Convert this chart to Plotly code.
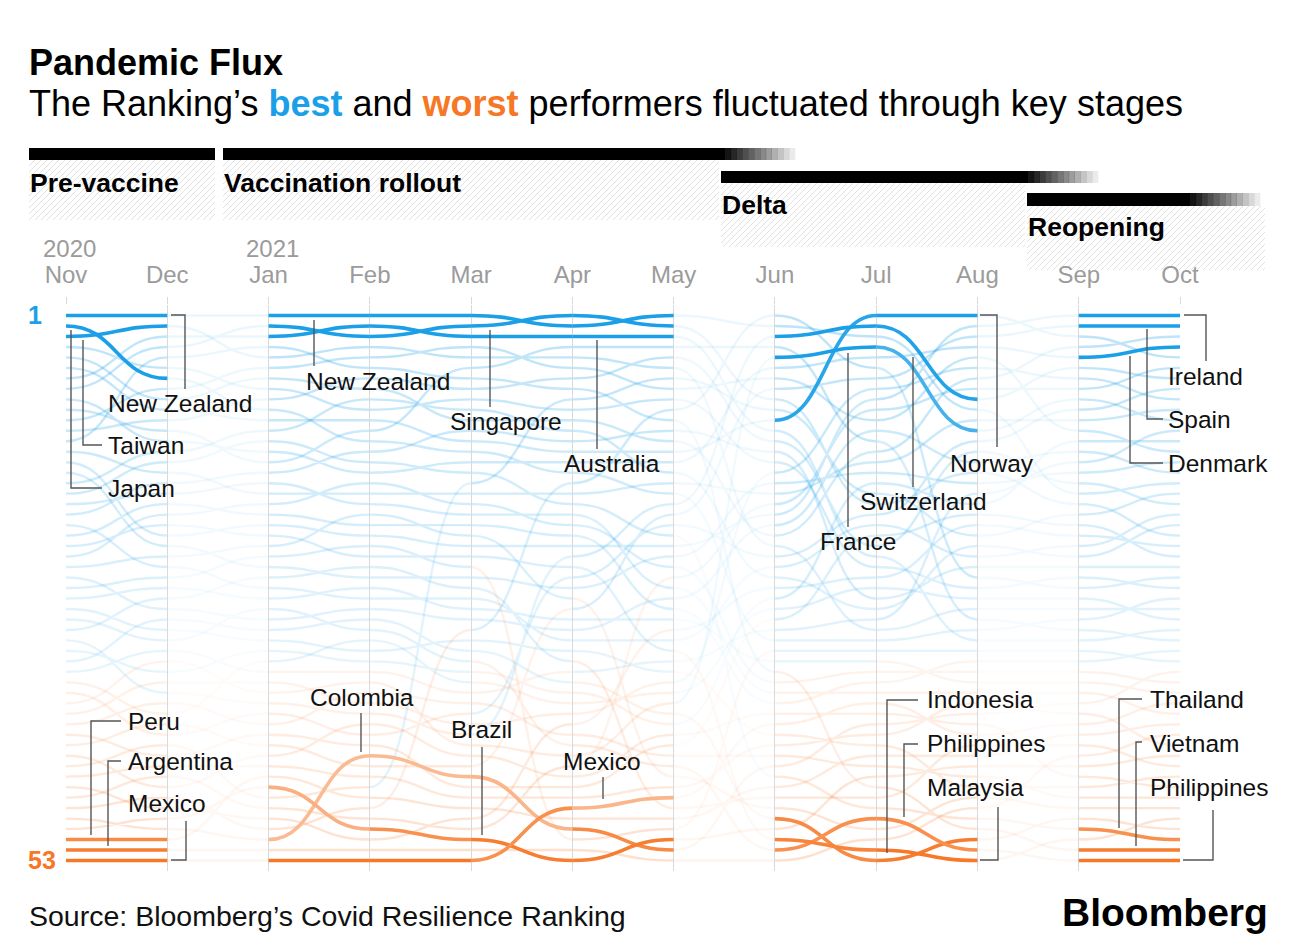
import plotly.graph_objects as go

# ---------------------------------------------------------------- data
MONTH_LABELS = ["Nov", "Dec", "Jan", "Feb", "Mar", "Apr", "May", "Jun", "Jul", "Aug", "Sep", "Oct"]
YEAR_LABELS = ["2020", "2021"]
YEAR_START_MONTH = [0, 2]

# Monthly ranking order (rank 1 first ... rank 53 last)
RANK_NOV = ["NZ","JP","TW","KR","FI","NO","AU","SG","DK","IL","CN","HK","VN","CA","IE","DE","SA","TH","PK","AE","SE","EG","MY","NG","BD","AT","TR","RU","ZA","PH","IN","CH","NL","ID","CL","GR","PT","FR","IT","IR","PL","ES","RO","UK","IQ","CZ","BE","US","CO","BR","PE","AR","MX"]
RANK_DEC = ["NZ","TW","AU","SG","VN","KR","JP","CN","FI","NO","HK","IL","DK","SA","TH","CA","AE","PK","EG","NG","MY","IE","DE","BD","SE","TR","RU","IN","AT","ID","ZA","PH","CL","FR","NL","IT","CH","IR","GR","ES","PT","UK","PL","IQ","BE","RO","US","CZ","BR","CO","PE","AR","MX"]
RANK_JAN = ["NZ","SG","AU","VN","TW","CN","FI","KR","HK","JP","NO","SA","TH","DK","IL","AE","PK","CA","NG","EG","IE","MY","BD","TR","DE","IN","SE","RU","PH","AT","ID","ZA","NL","GR","CL","IT","FR","CH","PT","IR","PL","ES","RO","IQ","PE","BR","UK","BE","CZ","US","CO","AR","MX"]
RANK_FEB = ["NZ","AU","SG","TW","CN","VN","HK","FI","SA","KR","NO","IL","JP","AE","TH","DK","NG","CA","PK","BD","EG","IE","TR","MY","IN","DE","RU","SE","AT","ID","PH","GR","ZA","NL","CL","FR","IR","IT","CH","RO","PT","PL","CO","ES","IQ","UK","PE","US","BE","BR","CZ","AR","MX"]
RANK_MAR = ["NZ","SG","AU","CN","TW","IL","VN","HK","KR","SA","FI","AE","NO","JP","DK","TH","UK","CA","NG","PK","EG","BD","IE","MY","TR","DE","IN","SE","RU","AT","US","ZA","ID","PH","NL","GR","CL","IR","PT","IT","CH","FR","RO","ES","CO","PL","IQ","PE","CZ","BE","BR","AR","MX"]
RANK_APR = ["SG","NZ","AU","IL","TW","CN","HK","VN","UK","KR","FI","SA","AE","NO","DK","JP","US","CA","TH","PK","NG","EG","IE","CH","MY","PT","DE","BD","ES","RU","AT","SE","ZA","IN","CL","ID","NL","GR","IT","CZ","IR","PH","FR","BE","RO","PL","IQ","MX","PE","CO","TR","AR","BR"]
RANK_MAY = ["NZ","SG","AU","IL","HK","TW","UK","CN","KR","US","VN","AE","FI","NO","DK","SA","CA","JP","CH","ES","PT","TH","IE","DE","NG","BE","PK","AT","EG","RU","CZ","SE","MY","CL","ZA","IT","GR","FR","ID","NL","RO","PL","IR","PH","BD","IQ","MX","IN","PE","TR","BR","CO","AR"]
RANK_JUN = ["US","NZ","CH","IL","FR","DK","CN","ES","SG","UK","NO","AU","HK","AE","KR","IT","DE","CA","BE","IE","AT","FI","TW","PT","SE","SA","CZ","NL","GR","PL","CL","JP","TR","RU","VN","NG","PK","EG","RO","MX","ZA","IQ","IR","CO","TH","PE","IN","BD","ID","BR","MY","PH","AR"]
RANK_JUL = ["NO","CH","NZ","FR","DK","US","ES","IT","IE","BE","CN","AT","IL","FI","CA","DE","NL","UK","SG","PT","SE","PL","HK","AU","KR","CZ","GR","AE","SA","CL","TW","JP","TR","RU","NG","EG","PK","MX","RO","CO","IQ","ZA","PE","IR","BR","VN","IN","TH","PH","BD","AR","MY","ID"]
RANK_AUG = ["NO","IE","ES","DK","CN","IT","FI","BE","CH","NZ","CA","FR","PT","HK","AT","SG","DE","CL","NL","PL","CZ","UK","SA","SE","AE","US","KR","GR","TW","IL","JP","AU","TR","EG","NG","RU","PK","IQ","CO","RO","MX","IN","PE","BR","IR","ZA","BD","AR","TH","VN","ID","PH","MY"]
RANK_SEP = ["IE","ES","NO","FI","DK","CH","IT","BE","FR","PT","CA","CN","NL","AT","CL","DE","HK","NZ","SG","UK","PL","CZ","SE","SA","AE","KR","US","GR","TW","JP","IL","AU","TR","EG","NG","RU","PK","CO","IQ","MX","PE","IN","AR","BR","RO","ZA","IR","BD","ID","TH","MY","VN","PH"]
RANK_OCT = ["IE","ES","FI","DK","NO","BE","CH","PT","IT","CA","FR","CL","NL","CN","DE","AT","NZ","UK","HK","SE","SA","SG","CZ","PL","AE","US","KR","JP","TW","GR","AU","IL","EG","TR","CO","NG","RU","MX","PK","PE","AR","IQ","BR","IN","ZA","RO","IR","BD","MY","ID","TH","VN","PH"]
MONTHLY_ORDER = [RANK_NOV, RANK_DEC, RANK_JAN, RANK_FEB, RANK_MAR, RANK_APR,
                 RANK_MAY, RANK_JUN, RANK_JUL, RANK_AUG, RANK_SEP, RANK_OCT]

PHASE_NAMES = ["Pre-vaccine", "Vaccination rollout", "Delta", "Reopening"]
PHASE_FIRST = [0, 2, 7, 10]
PHASE_LAST = [1, 6, 9, 11]
PHASE_BEST = [["NZ", "TW", "JP"], ["NZ", "SG", "AU"], ["NO", "CH", "FR"], ["IE", "ES", "DK"]]
PHASE_WORST = [["PE", "AR", "MX"], ["CO", "BR", "MX"], ["ID", "PH", "MY"], ["TH", "VN", "PH"]]

COUNTRY_NAMES = {
    "NZ": "New Zealand", "JP": "Japan", "TW": "Taiwan", "SG": "Singapore", "AU": "Australia",
    "NO": "Norway", "CH": "Switzerland", "FR": "France", "IE": "Ireland", "ES": "Spain",
    "DK": "Denmark", "PE": "Peru", "AR": "Argentina", "MX": "Mexico", "CO": "Colombia",
    "BR": "Brazil", "ID": "Indonesia", "PH": "Philippines", "MY": "Malaysia",
    "TH": "Thailand", "VN": "Vietnam",
}

# ---------------------------------------------------------------- geometry / style
W, H = 1296, 950
PL, PR, PT, PB = 66, 1180, 305, 871
Y_MAX = 54
FONT = "Liberation Sans, Arial, Helvetica, sans-serif"
BLUE = (27, 160, 232)
ORANGE = (246, 119, 38)
BLUE_HEX = "#1ba0e8"
ORANGE_HEX = "#f67726"


def paper_x(px):
    return (px - PL) / (PR - PL)


def paper_y(py):
    return (PB - py) / (PB - PT)


def bump(m0, r0, m1, r1):
    xm = (m0 + m1) / 2
    return f"M{m0},{r0} C{xm},{r0} {xm},{r1} {m1},{r1}"


def bg_rgba(avg, gap):
    if avg <= 34:
        a = 0.30 - 0.19 * (avg - 1) / 33
        col = BLUE
    else:
        a = 0.08 + 0.15 * (avg - 35) / 18
        col = ORANGE
    if gap:
        a *= 0.3
    return f"rgba({col[0]},{col[1]},{col[2]},{a:.3f})"


def mix_white(col, f):
    return "rgb(%d,%d,%d)" % tuple(round(c + (255 - c) * f) for c in col)


def hl_color(avg, best):
    if best:
        return mix_white(BLUE, min(0.4, max(0.0, (avg - 5) / 16)))
    return mix_white(ORANGE, min(0.5, max(0.0, (52.6 - avg) * 0.09)))


countries = list(RANK_NOV)
for order in MONTHLY_ORDER:
    assert len(order) == 53 and sorted(order) == sorted(countries)
rank = {c: [order.index(c) + 1 for order in MONTHLY_ORDER] for c in countries}
phase_of = {}
for p in range(4):
    for m in range(PHASE_FIRST[p], PHASE_LAST[p] + 1):
        phase_of[m] = p

shapes = []
annotations = []

# background bump lines
groups = {}
for c in countries:
    r = rank[c]
    for m in range(11):
        gap = phase_of[m] != phase_of[m + 1]
        avg = (r[m] + r[m + 1]) / 2
        groups.setdefault((gap, round(avg)), []).append(bump(m, r[m], m + 1, r[m + 1]))
for (gap, avg), paths in sorted(groups.items()):
    shapes.append(dict(type="path", path=" ".join(paths), xref="x", yref="y", layer="below",
                       line=dict(color=bg_rgba(avg, gap), width=2.4)))

# highlighted lines + invisible data traces
traces = []
for p in range(4):
    for c in PHASE_BEST[p] + PHASE_WORST[p]:
        best = c in PHASE_BEST[p]
        r = rank[c]
        for m in range(PHASE_FIRST[p], PHASE_LAST[p]):
            avg = (r[m] + r[m + 1]) / 2
            shapes.append(dict(type="path", path=bump(m, r[m], m + 1, r[m + 1]), xref="x", yref="y",
                               layer="above", line=dict(color=hl_color(avg, best), width=3.6)))
        months = list(range(PHASE_FIRST[p], PHASE_LAST[p] + 1))
        traces.append(go.Scatter(x=months, y=[r[m] for m in months], mode="markers",
                                 marker=dict(size=8, opacity=0), name=COUNTRY_NAMES[c],
                                 showlegend=False,
                                 hovertemplate=COUNTRY_NAMES[c] + ": rank %{y}<extra></extra>"))

# callout labels (label left x, label centre y, connector polyline) in pixels
CALLOUTS = [
    (0, "NZ", 106, 403, [(171, 315), (185, 315), (185, 389)]),
    (0, "TW", 106, 445, [(83, 340), (83, 445), (102, 445)]),
    (0, "JP", 106, 488, [(71, 330), (71, 488), (102, 488)]),
    (1, "NZ", 304, 381, [(314, 320), (314, 366)]),
    (1, "SG", 448, 421, [(490, 330), (490, 407)]),
    (1, "AU", 562, 463, [(597, 340), (597, 449)]),
    (2, "NO", 948, 463, [(980, 315), (997, 315), (997, 447)]),
    (2, "CH", 858, 501, [(913, 357), (913, 487)]),
    (2, "FR", 818, 541, [(848, 353), (848, 527)]),
    (3, "IE", 1166, 376, [(1184, 315), (1206, 315), (1206, 361)]),
    (3, "ES", 1166, 419, [(1147, 329), (1147, 419), (1163, 419)]),
    (3, "DK", 1166, 463, [(1130, 356), (1130, 463), (1163, 463)]),
    (0, "PE", 126, 721, [(121, 721), (91, 721), (91, 835)]),
    (0, "AR", 126, 761, [(121, 761), (108, 761), (108, 846)]),
    (0, "MX", 126, 803, [(171, 860), (186, 860), (186, 821)]),
    (1, "CO", 308, 697, [(361, 713), (361, 752)]),
    (1, "BR", 449, 729, [(482, 747), (482, 835)]),
    (1, "MX", 561, 761, [(603, 777), (603, 799)]),
    (2, "ID", 925, 699, [(918, 700), (887, 700), (887, 853)]),
    (2, "PH", 925, 743, [(918, 744), (904, 744), (904, 817)]),
    (2, "MY", 925, 787, [(980, 860), (998, 860), (998, 807)]),
    (3, "TH", 1148, 699, [(1142, 699), (1119, 699), (1119, 828)]),
    (3, "VN", 1148, 743, [(1142, 742), (1136, 742), (1136, 846)]),
    (3, "PH", 1148, 787, [(1183, 860), (1213, 860), (1213, 810)]),
]
for p, c, lx, ly, pts in CALLOUTS:
    annotations.append(dict(text=COUNTRY_NAMES[c], x=paper_x(lx), y=paper_y(ly), xref="paper",
                            yref="paper", xanchor="left", yanchor="middle", showarrow=False,
                            font=dict(size=24.5, color="#111111", family=FONT)))
    path = "M" + " L".join(f"{paper_x(x):.5f},{paper_y(y):.5f}" for x, y in pts)
    shapes.append(dict(type="path", path=path, xref="paper", yref="paper", layer="above",
                       line=dict(color="#555555", width=1.4)))

# phase headers: (x0, solid end, bar end, bar top, bar bottom, hatch end, hatch bottom, label y)
HEADERS = [
    (29, 215, 215, 148, 160, 215, 220, 183),
    (223, 725, 795, 148, 160, 719, 220, 183),
    (721, 1028, 1098, 171, 183, 1025, 247, 205),
    (1027, 1190, 1260, 193, 206, 1265, 270, 227),
]


def rect(x0, x1, y0, y1, color):
    return dict(type="rect", xref="paper", yref="paper", x0=paper_x(x0), x1=paper_x(x1),
                y0=paper_y(y1), y1=paper_y(y0), fillcolor=color, line=dict(width=0), layer="above")


for name, (x0, xs, xe, bt, bb, hx1, hb, ly) in zip(PHASE_NAMES, HEADERS):
    segs = []
    c = x0 + bb
    while c <= hx1 + hb:
        xa = max(x0, c - hb)
        xb = min(hx1, c - bb)
        if xa < xb:
            segs.append(f"M{paper_x(xa):.5f},{paper_y(c - xa):.5f} L{paper_x(xb):.5f},{paper_y(c - xb):.5f}")
        c += 6
    shapes.append(dict(type="path", path=" ".join(segs), xref="paper", yref="paper", layer="below",
                       line=dict(color="#e2e2e2", width=1)))
    shapes.append(rect(x0, xs, bt, bb, "#000000"))
    steps = 12
    if xe > xs:
        w = (xe - xs) / steps
        for i in range(steps):
            a = 1 - (i + 1) / (steps + 1)
            shapes.append(rect(xs + i * w, xs + (i + 1) * w + 0.3, bt, bb, f"rgba(0,0,0,{a:.3f})"))
    annotations.append(dict(text=f"<b>{name}</b>", x=paper_x(x0 - 1), y=paper_y(ly), xref="paper",
                            yref="paper", xanchor="left", yanchor="middle", showarrow=False,
                            font=dict(size=26.5, color="#000000", family=FONT)))

# year labels above the first month of each year
for yl, m in zip(YEAR_LABELS, YEAR_START_MONTH):
    annotations.append(dict(text=yl, x=m, xshift=-25, y=paper_y(249), xref="x", yref="paper",
                            xanchor="left", yanchor="middle", showarrow=False,
                            font=dict(size=24, color="#9b9b9b", family=FONT)))

# titles, rank markers, source, logo
annotations += [
    dict(text="<b>Pandemic Flux</b>", x=paper_x(27), y=paper_y(62), xref="paper", yref="paper",
         xanchor="left", yanchor="middle", showarrow=False,
         font=dict(size=36, color="#000000", family=FONT)),
    dict(text=f"The Ranking’s <b><span style='color:{BLUE_HEX}'>best</span></b> and "
              f"<b><span style='color:{ORANGE_HEX}'>worst</span></b> performers fluctuated through key stages",
         x=paper_x(27), y=paper_y(104), xref="paper", yref="paper", xanchor="left", yanchor="middle",
         showarrow=False, font=dict(size=36, color="#000000", family=FONT)),
    dict(text="<b>1</b>", x=paper_x(26), y=paper_y(315), xref="paper", yref="paper", xanchor="left",
         yanchor="middle", showarrow=False, font=dict(size=25, color=BLUE_HEX, family=FONT)),
    dict(text="<b>53</b>", x=paper_x(26), y=paper_y(860), xref="paper", yref="paper", xanchor="left",
         yanchor="middle", showarrow=False, font=dict(size=25, color=ORANGE_HEX, family=FONT)),
    dict(text="Source: Bloomberg’s Covid Resilience Ranking", x=paper_x(27), y=paper_y(916),
         xref="paper", yref="paper", xanchor="left", yanchor="middle", showarrow=False,
         font=dict(size=28.5, color="#111111", family=FONT)),
    dict(text="<b>Bloomberg</b>", x=paper_x(1270), y=paper_y(912), xref="paper", yref="paper",
         xanchor="right", yanchor="middle", showarrow=False,
         font=dict(size=39, color="#000000", family=FONT)),
]

fig = go.Figure(traces)
fig.update_layout(
    width=W, height=H,
    margin=dict(l=PL, r=W - PR, t=PT, b=H - PB, pad=0),
    paper_bgcolor="white", plot_bgcolor="white",
    font=dict(family=FONT),
    showlegend=False,
    xaxis=dict(range=[0, 11], side="top", tickmode="array", tickvals=list(range(12)),
               ticktext=MONTH_LABELS, tickfont=dict(size=24, color="#9b9b9b", family=FONT),
               showgrid=True, gridcolor="#d9d9d9", gridwidth=1, zeroline=False, showline=False,
               ticks="outside", ticklen=7, tickcolor="#d9d9d9", automargin=False, fixedrange=True,
               ticklabelstandoff=4),
    yaxis=dict(range=[Y_MAX, 0], visible=False, fixedrange=True, automargin=False),
    shapes=shapes,
    annotations=annotations,
    hovermode="closest",
)

fig.write_html("out.html", config={"displayModeBar": False},
               post_script="document.body.style.margin='0';document.body.style.overflow='hidden';")
